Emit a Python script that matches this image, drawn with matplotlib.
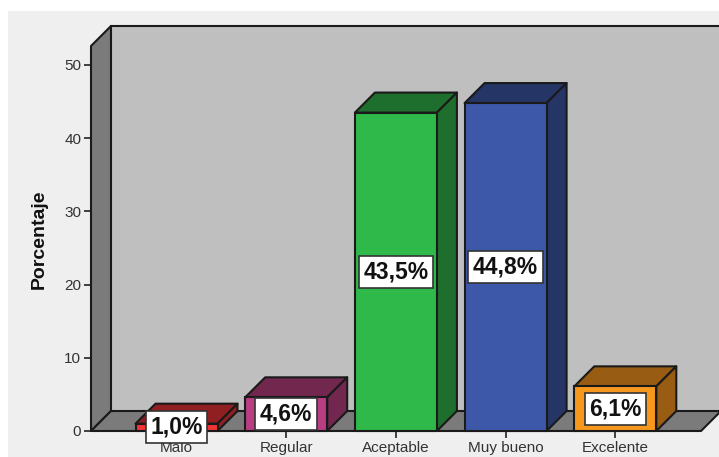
import matplotlib
matplotlib.use("Agg")
import matplotlib.pyplot as plt
from matplotlib.patches import Polygon, Rectangle

plt.rcParams['font.family'] = ['Liberation Sans', 'DejaVu Sans']

categories = ["Malo", "Regular", "Aceptable", "Muy bueno", "Excelente"]
values = [1.0, 4.6, 43.5, 44.8, 6.1]
labels = ["1,0%", "4,6%", "43,5%", "44,8%", "6,1%"]
front_colors = ["#f23434", "#b83d82", "#2fb94b", "#3e58a9", "#f7981e"]
dark_colors = ["#8f1f20", "#72274f", "#1e6e2d", "#243566", "#985c12"]
y_ticks = [0, 10, 20, 30, 40, 50]

W, H = 719, 457
fig = plt.figure(figsize=(W / 100, H / 100), dpi=100, facecolor="white")
fig.patches.append(Rectangle((8 / W, 0), 1 - 8 / W, 1 - 11 / H, transform=fig.transFigure,
                             facecolor="#efefef", edgecolor="none", zorder=-10))

# plot frame in pixels
L, R, B, T = 91, 701, 431, 46
ax = fig.add_axes([L / W, 1 - B / H, (R - L) / W, (B - T) / H])
ax.patch.set_visible(False)
PX_X = 109.7     # pixels per category
PX_Y = 7.32      # pixels per percent
ax.set_xlim((L - 176.5) / PX_X, (R - 176.5) / PX_X)
ax.set_ylim(0, (B - T) / PX_Y)
DX = 20 / PX_X
DY = 20 / PX_Y
x0, x1 = ax.get_xlim()
y0, y1 = ax.get_ylim()
EC = "#1a1a1a"
LW = 1.5

def poly(pts, fc, z):
    ax.add_patch(Polygon(pts, closed=True, facecolor=fc, edgecolor=EC, linewidth=LW,
                         joinstyle="round", clip_on=False, zorder=z))

# walls and floor
ax.add_patch(Polygon([(x0 + DX, y0 + DY), (x1 + DX, y0 + DY), (x1 + DX, y1 + DY), (x0 + DX, y1 + DY)],
                     closed=True, facecolor="#bfbfbf", edgecolor="none", clip_on=False, zorder=1))
ax.plot([x0 + DX, x1 + DX], [y1 + DY, y1 + DY], color=EC, lw=LW, clip_on=False, zorder=1.5)
poly([(x0, y0), (x0 + DX, y0 + DY), (x0 + DX, y1 + DY), (x0, y1)], "#7b7b7b", 2)
poly([(x0, y0), (x1, y0), (x1 + DX, y0 + DY), (x0 + DX, y0 + DY)], "#7b7b7b", 2)

# bars
BAR_W = 82 / PX_X
for i, (v, fc, dc) in enumerate(zip(values, front_colors, dark_colors)):
    l, r = i - BAR_W / 2, i + BAR_W / 2
    poly([(l, v), (r, v), (r + DX, v + DY), (l + DX, v + DY)], dc, 3)
    poly([(r, 0), (r + DX, DY), (r + DX, v + DY), (r, v)], dc, 3)
ax.bar(range(len(values)), values, width=BAR_W, color=front_colors, edgecolor=EC,
       linewidth=LW, zorder=4, clip_on=False)

# data labels
for i, (v, s) in enumerate(zip(values, labels)):
    ax.text(i, v / 2, s, ha="center", va="center", fontsize=16.5, fontweight="bold",
            color="#111111", zorder=6, clip_on=False,
            bbox=dict(boxstyle="square,pad=0.2", facecolor="white", edgecolor="#333333", linewidth=1.2))

for s in ax.spines.values():
    s.set_visible(False)
ax.set_xticks(range(len(categories)), categories)
ax.set_yticks(y_ticks)
ax.tick_params(axis="both", length=5, width=1.2, color="#222222", labelsize=11,
               labelcolor="#333333", pad=2)
ax.tick_params(axis="x", pad=2)
ax.set_ylabel("Porcentaje", fontsize=14, fontweight="bold", color="#111111", labelpad=0)
ax.yaxis.set_label_coords((48 - L) / (R - L), (B - 239) / (B - T), transform=ax.transAxes)

fig.savefig("out.png", dpi=100)
